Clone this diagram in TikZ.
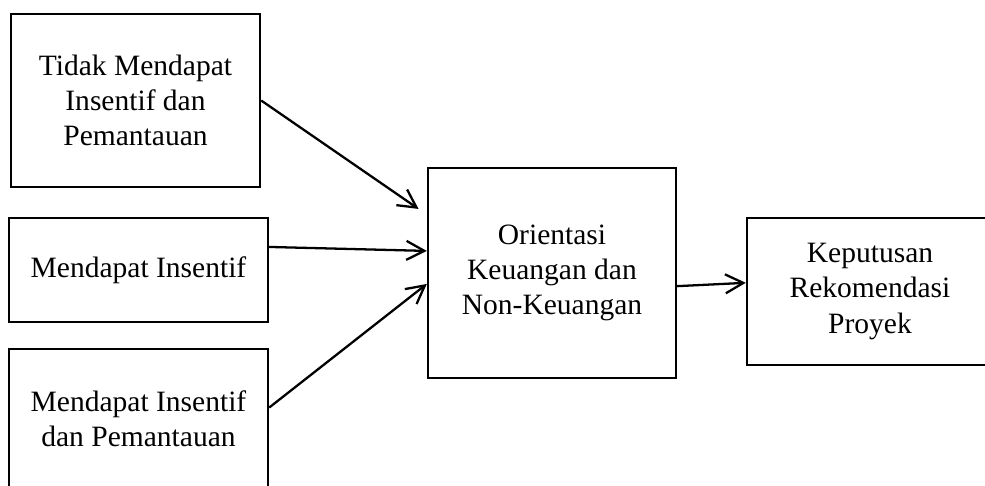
\documentclass[tikz,border=0pt]{standalone}
\usepackage{fontspec}
\setmainfont{Liberation Serif}
\usepackage{tikz}
\usetikzlibrary{positioning}
\usetikzlibrary{arrows.meta}

\begin{document}
\begin{tikzpicture}[x=0.02cm,y=-0.02cm,
 box/.style={draw,line width=1.4pt,inner sep=0pt,align=center,font=\fontsize{16.8}{20}\selectfont},
 arr/.style={line width=1.3pt,-{Straight Barb[length=3.6mm,width=3.8mm,line width=1.3pt]}}]
 \useasboundingbox (0,0) rectangle (985,486);
 \clip (0,0) rectangle (985,486);
 \node[box,minimum width=4.98cm,minimum height=3.46cm](tm) at (135.5,100.5){Tidak Mendapat\\Insentif dan\\Pemantauan};
 \node[box,minimum width=5.18cm,minimum height=2.08cm](mi) at (138.5,270){Mendapat Insentif};
 \node[box,minimum width=5.18cm,minimum height=2.8cm](mip) at (138.5,419){Mendapat Insentif\\dan Pemantauan};
 \node[box,minimum width=4.96cm,minimum height=4.2cm](ok) at (552,273){Orientasi\\Keuangan dan\\Non-Keuangan};
 \node[box,minimum width=4.92cm,minimum height=2.94cm](kr) at (870,291.5){Keputusan\\Rekomendasi\\Proyek};
 \draw[arr,shorten >=0.2cm](tm.east)--(ok.155);
 \draw[arr](mi.10)--(ok.170);
 \draw[arr](mip.5)--(ok.185);
 \draw[arr](ok.-6)--(kr.176);
\end{tikzpicture}
\end{document}
